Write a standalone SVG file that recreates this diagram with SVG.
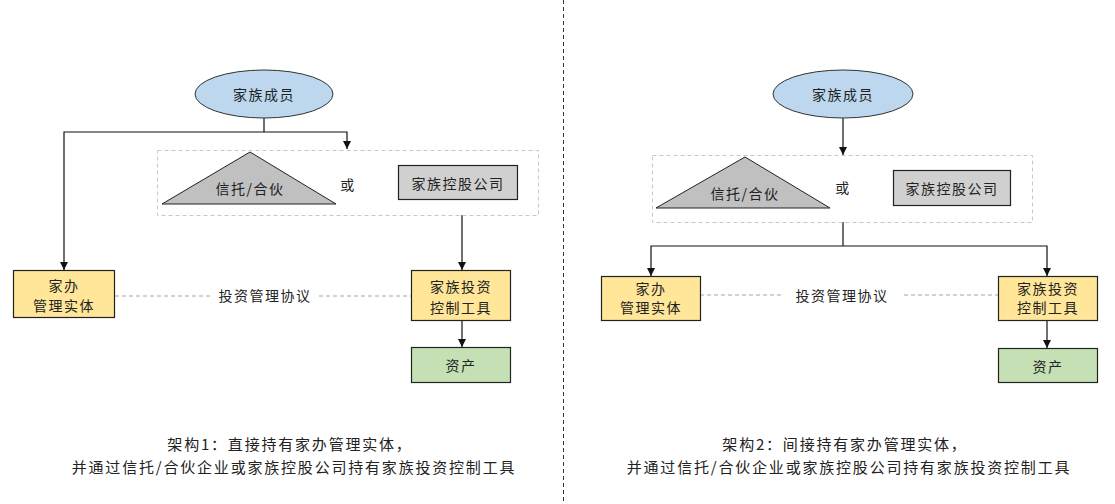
<svg xmlns="http://www.w3.org/2000/svg" width="1115" height="504" viewBox="0 0 1115 504">
<defs>
<marker id="arr" viewBox="0 0 10 10" refX="10" refY="5" markerWidth="8" markerHeight="8" markerUnits="userSpaceOnUse" orient="auto">
<path d="M0,0 L10,5 L0,10 z" fill="#111"/>
</marker>
<style>
text{font-family:"Noto Sans CJK SC","Noto Sans",sans-serif;fill:#222;text-anchor:middle;dominant-baseline:central;}
.t{font-size:14px;letter-spacing:1.5px;}
.cap{font-size:15px;letter-spacing:1.8px;}
.ell{fill:#BDD7EE;stroke:#333;stroke-width:1;}
.tri{fill:#C0C0C0;stroke:#222;stroke-width:1;}
.gray{fill:#D0D0D0;stroke:#222;stroke-width:1.2;}
.yel{fill:#FFE699;stroke:#222;stroke-width:1.2;}
.grn{fill:#C5E0B4;stroke:#222;stroke-width:1.2;}
.grp{fill:none;stroke:#C8C8C8;stroke-width:1;stroke-dasharray:4 3;}
.ln{fill:none;stroke:#111;stroke-width:1.2;}
.ag{fill:none;stroke:#A6A6A6;stroke-width:1;stroke-dasharray:4 3;}
.div{fill:none;stroke:#333;stroke-width:1;stroke-dasharray:4 3;}
</style>
</defs>
<rect width="1115" height="504" fill="#fff"/>

<g id="connectors">
<line class="div" x1="563.5" y1="0" x2="563.5" y2="504"/>
<!-- left -->
<polyline class="ln" points="264,118 264,132"/>
<polyline class="ln" points="264,132 64,132 64,270" marker-end="url(#arr)"/>
<polyline class="ln" points="264,132 347,132 347,149" marker-end="url(#arr)"/>
<polyline class="ln" points="462,215 462,270" marker-end="url(#arr)"/>
<polyline class="ln" points="462,321 462,347" marker-end="url(#arr)"/>
<line class="ag" x1="115" y1="296" x2="211" y2="296"/>
<line class="ag" x1="319" y1="296" x2="411" y2="296"/>
<!-- right -->
<polyline class="ln" points="843,118 843,155" marker-end="url(#arr)"/>
<polyline class="ln" points="843,222 843,246"/>
<polyline class="ln" points="843,246 651,246 651,276" marker-end="url(#arr)"/>
<polyline class="ln" points="843,246 1047,246 1047,276" marker-end="url(#arr)"/>
<polyline class="ln" points="1047,320 1047,348" marker-end="url(#arr)"/>
<line class="ag" x1="700" y1="295" x2="784" y2="295"/>
<line class="ag" x1="904" y1="295" x2="998" y2="295"/>
</g>

<!-- left diagram -->
<g id="L-group"><rect class="grp" x="157.5" y="150.5" width="381" height="65"/></g>
<g id="L-members"><ellipse class="ell" cx="264" cy="94" rx="69" ry="24"/><text class="t" x="264" y="94">家族成员</text></g>
<g id="L-trust"><polygon class="tri" points="250,152 162,204 336,204"/><text class="t" x="250" y="188">信托/合伙</text></g>
<g id="L-or"><text class="t" x="348" y="184">或</text></g>
<g id="L-holding"><rect class="gray" x="398.5" y="165.5" width="119" height="34"/><text class="t" x="458" y="183">家族控股公司</text></g>
<g id="L-office"><rect class="yel" x="13.5" y="270.5" width="101" height="47"/><text class="t" x="64" y="285">家办</text><text class="t" x="64" y="305">管理实体</text></g>
<g id="L-agreement"><text class="t" x="265" y="295">投资管理协议</text></g>
<g id="L-vehicle"><rect class="yel" x="411.5" y="270.5" width="99" height="50"/><text class="t" x="461" y="286">家族投资</text><text class="t" x="461" y="307">控制工具</text></g>
<g id="L-asset"><rect class="grn" x="411.5" y="347.5" width="99" height="35"/><text class="t" x="461" y="365">资产</text></g>
<g id="L-caption"><text class="cap" x="290" y="443">架构1：直接持有家办管理实体，</text><text class="cap" x="294" y="466">并通过信托/合伙企业或家族控股公司持有家族投资控制工具</text></g>

<!-- right diagram -->
<g id="R-group"><rect class="grp" x="652.5" y="155.5" width="380" height="67"/></g>
<g id="R-members"><ellipse class="ell" cx="843" cy="94" rx="70" ry="24"/><text class="t" x="843" y="94">家族成员</text></g>
<g id="R-trust"><polygon class="tri" points="745,157 656,208 830,208"/><text class="t" x="745" y="193">信托/合伙</text></g>
<g id="R-or"><text class="t" x="843" y="187">或</text></g>
<g id="R-holding"><rect class="gray" x="893.5" y="170.5" width="117" height="35"/><text class="t" x="952" y="188">家族控股公司</text></g>
<g id="R-office"><rect class="yel" x="601.5" y="276.5" width="99" height="44"/><text class="t" x="651" y="288">家办</text><text class="t" x="651" y="307">管理实体</text></g>
<g id="R-agreement"><text class="t" x="842" y="295">投资管理协议</text></g>
<g id="R-vehicle"><rect class="yel" x="998.5" y="276.5" width="99" height="44"/><text class="t" x="1048" y="288">家族投资</text><text class="t" x="1048" y="307">控制工具</text></g>
<g id="R-asset"><rect class="grn" x="998.5" y="348.5" width="99" height="34"/><text class="t" x="1048" y="366">资产</text></g>
<g id="R-caption"><text class="cap" x="845" y="443">架构2：间接持有家办管理实体，</text><text class="cap" x="849" y="466">并通过信托/合伙企业或家族控股公司持有家族投资控制工具</text></g>
</svg>
